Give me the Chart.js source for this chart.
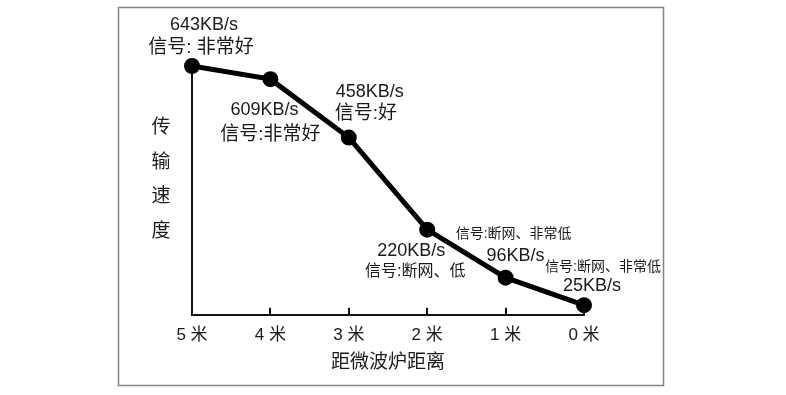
<!DOCTYPE html>
<html>
<head>
<meta charset="utf-8">
<script src="https://cdn.jsdelivr.net/npm/chart.js@4.4.0/dist/chart.umd.min.js"></script>
<style>
    html, body { margin: 0; padding: 0; background: #fff; }
    #wrap { width: 786px; height: 395px; }
</style>
</head>
<body>
<div id="wrap"><canvas id="speedChart" width="786" height="395"></canvas></div>
<script>
// ================= Data =================
const distances = ["5 米", "4 米", "3 米", "2 米", "1 米", "0 米"];
const speeds = [643, 609, 458, 220, 96, 25];
const speedLabels = ["643KB/s", "609KB/s", "458KB/s", "220KB/s", "96KB/s", "25KB/s"];
const signalLabels = ["信号: 非常好", "信号:非常好", "信号:好", "信号:断网、低", "信号:断网、非常低", "信号:断网、非常低"];

const FONT = "'Liberation Sans', 'Noto Sans CJK SC', sans-serif";

// label placement around each point: [dx, dy] for speed text, signal text, and signal font size
const labelPlace = [
    { v: [12, -41], s: [9, -18], size: 19 },
    { v: [-6, 31], s: [0, 56], size: 19 },
    { v: [21, -46], s: [17, -24], size: 19 },
    { v: [-16, 21], s: [-12, 42], size: 16 },
    { v: [10, -22], s: [8, -44], size: 14 },
    { v: [8, -19], s: [19, -38], size: 14 }
];

// ================= Plugins =================
const frame = {
    id: "frame",
    beforeDraw(chart) {
        const ctx = chart.ctx;
        ctx.save();
        ctx.strokeStyle = "#858585";
        ctx.lineWidth = 1.5;
        ctx.strokeRect(118.5, 7.5, 545, 378);
        ctx.restore();
    }
};

const annotations = {
    id: "annotations",
    afterDraw(chart) {
        const ctx = chart.ctx;
        const xScale = chart.scales.x;
        const area = chart.chartArea;
        ctx.save();

        // x ticks pointing up into the chart
        ctx.strokeStyle = "#111";
        ctx.lineWidth = 2;
        xScale.ticks.forEach((t, i) => {
            const x = Math.round(xScale.getPixelForTick(i));
            ctx.beginPath();
            ctx.moveTo(x, area.bottom);
            ctx.lineTo(x, area.bottom - 7);
            ctx.stroke();
        });

        // vertical y title
        ctx.fillStyle = "#1a1a1a";
        ctx.textAlign = "center";
        ctx.textBaseline = "middle";
        ctx.font = "19px " + FONT;
        "传输速度".split("").forEach((ch, i) => {
            ctx.fillText(ch, 161, 128 + i * 34.5);
        });

        // point labels
        const meta = chart.getDatasetMeta(0);
        meta.data.forEach((pt, i) => {
            const p = labelPlace[i];
            ctx.font = "18px " + FONT;
            ctx.fillText(speedLabels[i], pt.x + p.v[0], pt.y + p.v[1]);
            ctx.font = p.size + "px " + FONT;
            ctx.fillText(signalLabels[i], pt.x + p.s[0], pt.y + p.s[1]);
        });
        ctx.restore();
    }
};

// ================= Line Chart =================
const speedChart = new Chart(document.getElementById("speedChart"), {
    type: "line",
    data: {
        labels: distances,
        datasets: [{
            data: speeds,
            borderColor: "#000",
            borderWidth: 5,
            pointRadius: 5.5,
            pointBackgroundColor: "#000",
            pointBorderColor: "#000",
            tension: 0,
            clip: false
        }]
    },
    options: {
        responsive: false,
        animation: false,
        layout: {
            padding: { left: 192, right: 202, top: 66, bottom: 21 }
        },
        plugins: {
            legend: { display: false },
            tooltip: { enabled: false }
        },
        scales: {
            x: {
                offset: false,
                grid: { display: false, drawTicks: false },
                border: { display: true, color: "#111", width: 2 },
                ticks: {
                    color: "#1a1a1a",
                    padding: 10,
                    font: { size: 17, family: FONT }
                },
                title: {
                    display: true,
                    text: "距微波炉距离",
                    color: "#1a1a1a",
                    padding: { top: -4, bottom: 0 },
                    font: { size: 19, family: FONT }
                }
            },
            y: {
                min: 0,
                max: Math.max(...speeds),
                grid: { display: false, drawTicks: false },
                border: { display: true, color: "#111", width: 2 },
                ticks: { display: false }
            }
        }
    },
    plugins: [frame, annotations]
});
</script>
</body>
</html>
